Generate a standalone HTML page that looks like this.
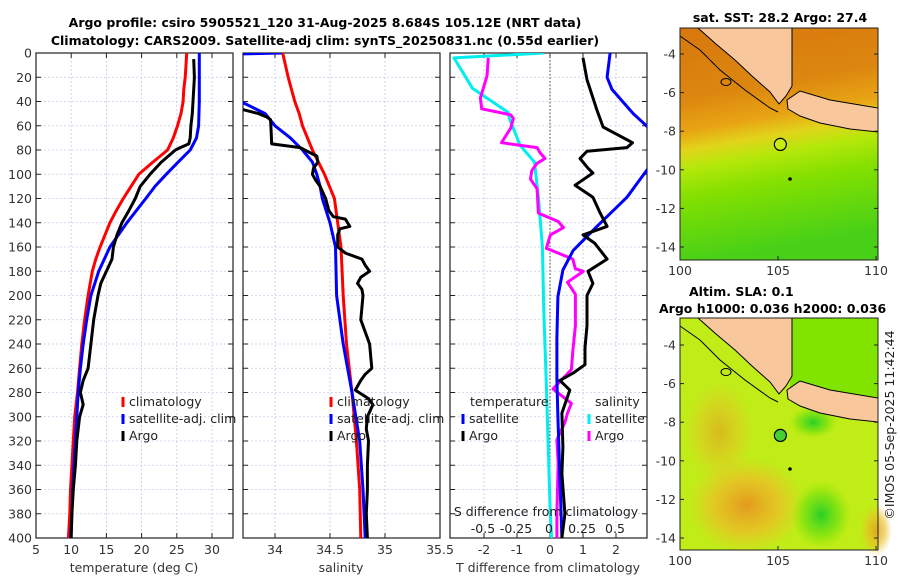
<!DOCTYPE html>
<html><head><meta charset="utf-8"><style>
body{margin:0;background:#fff;}
svg text{font-family:"DejaVu Sans","Liberation Sans",sans-serif;}
</style></head><body>
<svg id="fig" width="900" height="580" viewBox="0 0 900 580" xmlns="http://www.w3.org/2000/svg">
<defs>
<clipPath id="c1"><rect x="36" y="53" width="197" height="485"/></clipPath>
<clipPath id="c2"><rect x="243" y="53" width="197" height="485"/></clipPath>
<clipPath id="c3"><rect x="450" y="53" width="197" height="485"/></clipPath>
<linearGradient id="sstg" x1="0" y1="0" x2="0.15" y2="1">
<stop offset="0" stop-color="#d7780e"/><stop offset="0.3" stop-color="#dc860f"/><stop offset="0.44" stop-color="#e8a414"/><stop offset="0.52" stop-color="#e2d41a"/><stop offset="0.6" stop-color="#b4e80a"/><stop offset="0.72" stop-color="#84e000"/><stop offset="1" stop-color="#48d018"/>
</linearGradient>
<radialGradient id="blobO" cx="0.5" cy="0.5" r="0.5"><stop offset="0" stop-color="#e49a1e"/><stop offset="0.55" stop-color="#eabe26" stop-opacity="0.8"/><stop offset="1" stop-color="#ecc828" stop-opacity="0"/></radialGradient>
<radialGradient id="blobG" cx="0.5" cy="0.5" r="0.5"><stop offset="0" stop-color="#28d028"/><stop offset="0.6" stop-color="#70e010" stop-opacity="0.7"/><stop offset="1" stop-color="#90e800" stop-opacity="0"/></radialGradient>
</defs>
<text x="325" y="27" text-anchor="middle" font-size="12.5" font-weight="bold">Argo profile: csiro 5905521_120 31-Aug-2025 8.684S 105.12E (NRT data)</text>
<text x="325" y="45" text-anchor="middle" font-size="12.5" font-weight="bold">Climatology: CARS2009. Satellite-adj clim: synTS_20250831.nc (0.55d earlier)</text>
<g id="maps"></g>
<g id="plots"></g>
</svg>
<script>
const NS="http://www.w3.org/2000/svg";
const plots=document.getElementById('plots');
const maps=document.getElementById('maps');
function mk(tag,attrs,parent){const e=document.createElementNS(NS,tag);for(const k in attrs)e.setAttribute(k,attrs[k]);(parent||plots).appendChild(e);return e;}

// ---------- data ----------
const climTDepth=[0,10,20,30,40,50,60,70,80,90,100,110,120,130,140,150,160,170,180,190,200,220,240,260,280,300,320,340,360,380,400];
const climT=[26.4,26.3,26.2,26.0,25.9,25.6,25.1,24.5,23.7,21.6,19.6,18.5,17.4,16.4,15.5,14.8,14.1,13.5,13.0,12.7,12.4,11.9,11.5,11.2,10.9,10.5,10.3,10.1,9.9,9.8,9.6];
const satTDepth=[0,20,40,60,70,80,90,100,110,120,140,160,180,200,220,240,260,280,300,320,340,360,380,400];
const satT=[28.2,28.2,28.2,28.1,27.8,26.9,25.2,23.5,21.9,20.6,17.9,15.5,13.9,12.8,12.2,11.7,11.3,11.0,10.8,10.6,10.4,10.2,10.1,9.9];
const argoTDepth=[5,20,40,50,60,70,75,78,80,90,100,110,120,130,140,150,160,170,180,190,200,220,240,260,270,280,290,300,320,340,360,380,400];
const argoT=[27.4,27.5,27.3,27.2,27.0,26.9,26.7,25.5,24.8,22.8,21.2,19.8,19.1,18.2,17.2,16.5,16.0,15.8,15.0,14.2,13.8,13.2,12.8,12.4,11.7,11.3,11.7,11.2,10.8,10.6,10.3,10.1,10.0];

const climSDepth=[0,20,40,50,60,80,100,120,140,160,200,240,280,320,360,400];
const climS=[34.07,34.12,34.18,34.22,34.25,34.34,34.45,34.54,34.57,34.60,34.62,34.65,34.70,34.74,34.77,34.78];
const satSDepth=[0,1,36,50,60,70,80,90,100,110,120,140,160,200,240,280,320,360,400];
const satS=[34.06,33.6,33.6,33.91,34.0,34.14,34.25,34.34,34.38,34.41,34.43,34.50,34.55,34.56,34.62,34.70,34.77,34.80,34.82];
const argoSDepth=[46,50,53,55,75,78,80,85,90,95,100,105,110,120,130,135,137,143,145,150,160,165,170,175,180,185,190,195,200,220,240,260,265,270,278,285,290,300,310,320,340,360,380,400];
const argoS=[33.68,33.85,33.93,33.96,33.97,34.23,34.27,34.38,34.39,34.35,34.34,34.37,34.41,34.46,34.49,34.53,34.64,34.68,34.59,34.57,34.57,34.64,34.79,34.82,34.86,34.78,34.75,34.79,34.80,34.78,34.86,34.88,34.82,34.78,34.73,34.85,34.89,34.84,34.83,34.85,34.84,34.84,34.83,34.84];

const dSatTDepth=[0,20,30,50,62,70,90,96,119,143,163,179,201,235,269,300,350,400];
const dSatT=[1.82,1.73,1.88,2.52,3.0,3.6,3.2,2.95,2.33,1.42,0.70,0.39,0.24,0.21,0.21,0.24,0.30,0.36];
const dArgoTDepth=[4,22,47,61,74,78,81,87,95,99,109,119,132,143,150,157,170,180,190,200,225,243,257,264,270,278,297,325,347,380,400];
const dArgoT=[1.0,1.12,1.42,1.61,2.5,2.33,1.12,0.91,1.15,1.3,0.76,1.3,1.52,1.73,1.0,1.36,1.73,1.15,1.3,1.12,1.12,1.06,1.06,0.7,0.3,0.6,0.36,0.39,0.36,0.45,0.36];
const dSatSDepth=[0,4,29,49,54,76,90,119,160,210,275,380,400];
const dSatS=[-0.04,-0.72,-0.58,-0.31,-0.30,-0.22,-0.11,-0.08,-0.05,-0.04,-0.02,0.01,0.02];
const dArgoSDepth=[4,19,37,46,51,54,62,74,78,82,87,91,97,104,112,132,139,144,150,161,170,178,180,189,199,225,246,261,277,289,297,305,319,338,379,400];
const dArgoS=[-0.46,-0.47,-0.52,-0.51,-0.29,-0.27,-0.29,-0.36,-0.09,-0.07,-0.03,-0.09,-0.13,-0.14,-0.09,-0.08,0.07,0.11,0.01,-0.02,0.18,0.20,0.26,0.14,0.20,0.20,0.18,0.17,0.03,0.17,0.14,0.12,0.06,0.07,0.06,0.06];

const depthTicks=[0,20,40,60,80,100,120,140,160,180,200,220,240,260,280,300,320,340,360,380,400];
const tempTicks=[5,10,15,20,25,30];
const salTicks=[34,34.5,35,35.5];
const salTickLabels=['34','34.5','35','35.5'];
const dTTicks=[-2,-1,0,1,2];
const dTTickLabels=['-2','-1','0','1','2'];
const dSTicks=[-0.5,-0.25,0,0.25,0.5];
const dSTickLabels=['-0.5','-0.25','0','0.25','0.5'];
const latTicks=[-4,-6,-8,-10,-12,-14];
const lonTicks=[100,105,110];

// ---------- axes ----------
const Y0=53,Y1=538;
const yD=d=>Y0+(d/400)*(Y1-Y0);
const xT=t=>36+(t-5)*7.04;
const xS=s=>275+(s-34)*110;
const xDT=t=>550+t*33;
const xDS=s=>549+s*132;
const FS=12.5;

function panel(x0,name,xt,ticks,labels,xfun,ylabels){
  const g=mk('g',{});
  
  
  depthTicks.forEach(d=>{
    const gl=mk('line',{x1:x0,x2:x0+197,y1:yD(d),y2:yD(d),stroke:'#c4cce8','stroke-width':0.8,'stroke-dasharray':'2,2'},g);
    
    
    mk('line',{x1:x0,x2:x0+5,y1:yD(d),y2:yD(d),stroke:'#222'},g);
    mk('line',{x1:x0+192,x2:x0+197,y1:yD(d),y2:yD(d),stroke:'#222'},g);
    if(ylabels){const t=mk('text',{x:x0-4,y:yD(d)+4.5,'text-anchor':'end','font-size':FS,fill:'#333'},g);t.textContent=d;
      
      }
  });
  ticks.forEach((v,i)=>{
    const x=xfun(v);
    if(x>x0+1&&x<x0+196){const gl=mk('line',{x1:x,x2:x,y1:Y0,y2:Y1,stroke:'#c4cce8','stroke-width':0.8,'stroke-dasharray':'2,2'},g);
      
      }
    mk('line',{x1:x,x2:x,y1:Y1,y2:Y1-5,stroke:'#222'},g);
    mk('line',{x1:x,x2:x,y1:Y0,y2:Y0+5,stroke:'#222'},g);
    if(labels[i]!==''){const t=mk('text',{x:x,y:554,'text-anchor':'middle','font-size':FS,fill:'#333'},g);t.textContent=labels[i];
    
    }
  });
  mk('rect',{x:x0,y:Y0,width:197,height:485,fill:'none',stroke:'#222','stroke-width':1.2},g);
  const xl=mk('text',{x:x0+98,y:572,'text-anchor':'middle','font-size':FS,fill:'#333'},g);xl.textContent=xt;
  
  
  return g;
}
panel(36,'temperature-panel','temperature (deg C)',tempTicks,tempTicks.map(String),xT,true);
panel(243,'salinity-panel','salinity',salTicks,salTickLabels,xS,false);
panel(450,'difference-panel','T difference from climatology',dTTicks,dTTickLabels,xDT,false);

const zl=mk('line',{x1:xDT(0),x2:xDT(0),y1:Y0,y2:Y1,stroke:'#4a4a2a','stroke-width':1,'stroke-dasharray':'1.5,2'});



function series(depths,vals,xf,color,clip,name,w){
  const pts=depths.map((d,i)=>xf(vals[i]).toFixed(1)+','+yD(d).toFixed(1)).join(' ');
  const p=mk('polyline',{points:pts,fill:'none',stroke:color,'stroke-width':w||3,'stroke-linejoin':'round','clip-path':'url(#'+clip+')'});
  
  
}
series(climTDepth,climT,xT,'#ff0000','c1','climatology-temperature-line');
series(satTDepth,satT,xT,'#0000ff','c1','satellite-temperature-line');
series(argoTDepth,argoT,xT,'#000000','c1','argo-temperature-line');
series(climSDepth,climS,xS,'#ff0000','c2','climatology-salinity-line');
series(satSDepth,satS,xS,'#0000ff','c2','satellite-salinity-line');
series(argoSDepth,argoS,xS,'#000000','c2','argo-salinity-line');
series(dSatSDepth,dSatS,xDS,'#00eeee','c3','satellite-salinity-diff-line');
series(dArgoSDepth,dArgoS,xDS,'#ff00ff','c3','argo-salinity-diff-line');
series(dSatTDepth,dSatT,xDT,'#0000ff','c3','satellite-temperature-diff-line');
series(dArgoTDepth,dArgoT,xDT,'#000000','c3','argo-temperature-diff-line');

{const t=mk('text',{x:546,y:516,'text-anchor':'middle','font-size':FS,fill:'#222'});t.textContent='S difference from climatology';
 
 }
dSTicks.forEach((v,i)=>{const t=mk('text',{x:xDS(v),y:533,'text-anchor':'middle','font-size':FS,fill:'#222'});t.textContent=dSTickLabels[i];
 
 });

function legendItem(x,y,color,label,name){
  const g=mk('g',{});
  
  
  mk('line',{x1:x,x2:x,y1:y-9,y2:y+1,stroke:color,'stroke-width':3},g);
  const t=mk('text',{x:x+6,y:y,'font-size':FS,fill:'#222'},g);t.textContent=label;
}
legendItem(123,406,'#ff0000','climatology','legend-climatology');
legendItem(123,423,'#0000ff','satellite-adj. clim','legend-satellite-adj');
legendItem(123,440,'#000000','Argo','legend-argo');
legendItem(331,406,'#ff0000','climatology','legend-climatology-sal');
legendItem(331,423,'#0000ff','satellite-adj. clim','legend-satellite-adj-sal');
legendItem(331,440,'#000000','Argo','legend-argo-sal');
{const t=mk('text',{x:470,y:406,'font-size':FS,fill:'#222'});t.textContent='temperature';
 
 
 const s=mk('text',{x:595,y:406,'font-size':FS,fill:'#222'});s.textContent='salinity';
 
 }
legendItem(463,423,'#0000ff','satellite','legend-t-satellite');
legendItem(463,440,'#000000','Argo','legend-t-argo');
legendItem(589,423,'#00eeee','satellite','legend-s-satellite');
legendItem(589,440,'#ff00ff','Argo','legend-s-argo');

// ---------- maps ----------
function map(yTop,lat4y,name,bottom){
  const g=mk('g',{},maps);
  
  
  const W=198,H=232;
  const lonX=l=>680+(l-100)*19.6;
  const latY=l=>lat4y+(-4-l)*19.3;
  if(!bottom){
    mk('rect',{x:680,y:yTop,width:W,height:H,fill:'url(#sstg)'},g);
  }else{
    mk('rect',{x:680,y:yTop,width:W,height:H,fill:'#c0ec18'},g);
    mk('rect',{x:790,y:yTop,width:88,height:80,fill:'#80e400'},g);
    mk('ellipse',{cx:lonX(103.4),cy:latY(-12.3),rx:58,ry:48,fill:'url(#blobO)'},g);
    mk('ellipse',{cx:lonX(102),cy:latY(-8.5),rx:34,ry:50,fill:'url(#blobO)',opacity:0.6},g);
    mk('ellipse',{cx:lonX(107.2),cy:latY(-12.8),rx:30,ry:34,fill:'url(#blobG)'},g);
    mk('ellipse',{cx:lonX(106.8),cy:latY(-8),rx:24,ry:16,fill:'url(#blobG)'},g);
    mk('ellipse',{cx:lonX(110),cy:latY(-13.6),rx:16,ry:26,fill:'url(#blobO)',opacity:0.8},g);
  }
  const o=yTop-28;
  const sum=[[698,28],[792,28],[792,86],[786,96],[779,104],[770,92],[752,76],[735,60],[716,44]];
  const land=mk('polygon',{points:sum.map(p=>p[0]+','+(p[1]+o)).join(' '),fill:'#f8c89c',stroke:'#000','stroke-width':1},g);
  
  
  const jav=[[787,100],[800,91],[830,100],[878,108],[878,132],[850,129],[820,123],[800,116],[788,109]];
  const j=mk('polygon',{points:jav.map(p=>p[0]+','+(p[1]+o)).join(' '),fill:'#f8c89c',stroke:'#000','stroke-width':1},g);
  
  
  mk('polyline',{points:[[680,36],[700,50],[720,70],[745,90],[770,108],[778,112]].map(p=>p[0]+','+(p[1]+o)).join(' '),fill:'none',stroke:'#000','stroke-width':1},g);
  mk('ellipse',{cx:726,cy:82+o,rx:5,ry:3.5,fill:'none',stroke:'#000'},g);
  mk('circle',{cx:790,cy:179+o,r:1.8,fill:'#000'},g);
  const mc=mk('circle',{cx:lonX(105.12),cy:latY(-8.684),r:6,fill:bottom?'#44d030':'#c8ec10',stroke:'#000','stroke-width':1.2},g);
  
  
  mk('rect',{x:680,y:yTop,width:W,height:H,fill:'none',stroke:'#222','stroke-width':1},g);
  latTicks.forEach(l=>{const y=latY(l);
    mk('line',{x1:680,x2:684,y1:y,y2:y,stroke:'#222'},g);
    mk('line',{x1:874,x2:878,y1:y,y2:y,stroke:'#222'},g);
    const t=mk('text',{x:676,y:y+4.5,'text-anchor':'end','font-size':FS,fill:'#333'},g);t.textContent=l;
    
    });
  lonTicks.forEach(l=>{const x=lonX(l);
    mk('line',{x1:x,x2:x,y1:yTop+H,y2:yTop+H-4,stroke:'#222'},g);
    const t=mk('text',{x:x,y:yTop+H+15,'text-anchor':'middle','font-size':FS,fill:'#333'},g);t.textContent=l;
    
    });
}
map(28,54,'sst-map',false);
map(318,345,'sla-map',true);
function txt(x,y,s,name,attrs){const t=mk('text',Object.assign({x:x,y:y,'font-size':12.5,'font-weight':'bold'},attrs||{}),maps);t.textContent=s;
  
  }
txt(780,22,'sat. SST: 28.2 Argo: 27.4','sst-map-title',{'text-anchor':'middle'});
txt(689,296,'Altim. SLA: 0.1','sla-map-title');
txt(659,313,'Argo h1000: 0.036 h2000: 0.036','sla-map-subtitle');
{const t=mk('text',{x:0,y:0,'font-size':FS,fill:'#222','text-anchor':'middle',transform:'translate(894,425) rotate(-90)'},maps);
 t.textContent='©IMOS 05-Sep-2025 11:42:44';
 
 }
</script>
</body></html>
